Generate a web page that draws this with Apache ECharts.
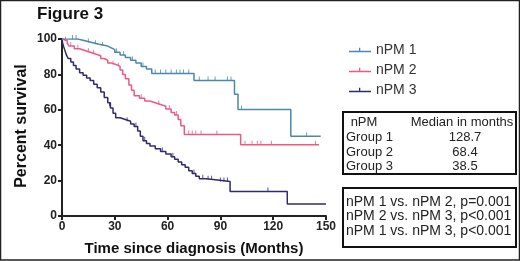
<!DOCTYPE html>
<html>
<head>
<meta charset="utf-8">
<script src="https://cdn.jsdelivr.net/npm/echarts@6/dist/echarts.min.js"></script>
<style>
  html, body { margin: 0; padding: 0; background: #fff; }
  #chart { width: 520px; height: 261px; }
</style>
</head>
<body>
<div id="chart"></div>
<script>
// KM curves: [time in months, percent survival after the step]
var npm1 = [[0,100],[9,99],[13,98],[17,97],[21,96],[26,95],[28,94],[30,92.5],[33,91],[36,89.5],[39,88],[42,86.5],[45,84.5],[48,83],[51,80.5],[75,76.5],[98,68.8],[100,60.2],[130,45],[147,45]];
var npm2 = [[0,100],[1,99],[3,97.5],[4,96],[7,94.5],[10,93.5],[13,92.5],[16,91.5],[19,90.5],[22,89],[24,88],[26,86.5],[28,85.5],[31,84.5],[33,82.5],[34.5,80],[36,77.5],[38,74],[39.5,71],[41,68],[44,66.5],[47,65],[50,64],[53,63],[56,62],[59,60.5],[62,58.5],[64,57],[66,54.5],[67.5,51],[69.5,46],[101.5,40.3],[146,40.3]];
var npm3 = [[0,100],[0.5,97],[1.5,94],[2.5,91],[3.5,89],[5,87],[6.5,85],[8,83],[10,81],[12,79.5],[14,78],[16,76.5],[18,74.5],[20,72.5],[22,70],[24,67],[26,64],[27.5,61],[29,58],[30.5,55.5],[33,54.5],[36,53.5],[39,52],[41,50.5],[43,48],[44.5,45],[46,42.5],[48,41],[50,39.5],[53,38],[56,36.5],[59,35],[62,33.5],[64,32],[66,30.5],[68,29],[70,27.5],[72,25.5],[74,24],[76,22.5],[78,21],[82,20.5],[87,19.5],[95.5,13.8],[128,6.8],[150,6.8]];

// censored observations (tick marks)
var cens1 = [[6,100],[8,100],[15,98],[19,97],[23,96],[31,92.5],[35,91],[40,88],[46,84.5],[53,80.5],[56,80.5],[59,80.5],[62,80.5],[65,80.5],[67,80.5],[69,80.5],[72,80.5],[78,76.5],[83,76.5],[87,76.5],[94,76.5],[96,76.5],[102,60.2],[139,45]];
var cens2 = [[2,99],[5,96],[9,94.5],[15,92.5],[18,91.5],[29,85.5],[32,84.5],[45,66.5],[55,63],[61,60.5],[65,57],[72,46],[74,46],[76,46],[79,46],[88,46],[104,40.3],[108,40.3],[111,40.3],[113,40.3],[119,40.3],[144,40.3]];
var cens3 = [[27,62],[37,53.5],[42,50.5],[47,42.5],[57,36.5],[63,33.5],[75,24],[80,21],[83,20.5],[85,20.5],[90,19.5],[92,19.5],[94,19.5],[117,13.8]];

var groupNames = ['nPM 1', 'nPM 2', 'nPM 3'];
var colors = ['#4b88aa', '#ec5a82', '#2e2c6e'];
var medianRows = ['Group 1', 'Group 2', 'Group 3'];
var medianVals = ['128.7', '68.4', '38.5'];
var pLines = ['nPM 1 vs. nPM 2, p=0.001', 'nPM 2 vs. nPM 3, p<0.001', 'nPM 1 vs. nPM 3, p<0.001'];
var xTicks = [0, 30, 60, 90, 120, 150];

var FONT = '"Liberation Sans", Arial, sans-serif';
var chart = echarts.init(document.getElementById('chart'));

var curves = [npm1, npm2, npm3];
var cens = [cens1, cens2, cens3];
var series = [];
for (var i = 0; i < 3; i++) {
  series.push({
    name: groupNames[i], type: 'line', step: 'end', data: curves[i],
    showSymbol: false, symbol: 'none', silent: true,
    lineStyle: { color: colors[i], width: 1.5 }, itemStyle: { color: colors[i] },
    z: 3 - i
  });
  series.push({
    type: 'scatter', data: cens[i], symbol: 'rect', symbolSize: [1, 4],
    symbolOffset: [0, -2], itemStyle: { color: colors[i], opacity: 0.8 }, silent: true, z: 4
  });
}

var graphic = [
  { type: 'rect', shape: { x: 0.5, y: 0.5, width: 519, height: 259.5 }, style: { fill: null, stroke: '#222', lineWidth: 1.5 } },
  { type: 'text', left: 37, top: 6, style: { text: 'Figure 3', font: 'bold 17px ' + FONT, fill: '#111' } },
  // y axis title, placed by hand so it sits where the reference has it
  { type: 'text', x: 22, y: 126, rotation: Math.PI / 2, style: { text: 'Percent survival', font: 'bold 16px ' + FONT, fill: '#111', align: 'center', verticalAlign: 'middle' } },
  { type: 'rect', shape: { x: 343, y: 112, width: 173, height: 62 }, style: { fill: null, stroke: '#111', lineWidth: 2 } },
  { type: 'text', x: 364, y: 122, style: { text: 'nPM', font: '13px ' + FONT, fill: '#222', align: 'center', verticalAlign: 'middle' } },
  { type: 'text', x: 462, y: 122, style: { text: 'Median in months', font: '13px ' + FONT, fill: '#222', align: 'center', verticalAlign: 'middle' } },
  { type: 'rect', shape: { x: 343, y: 188, width: 173, height: 59 }, style: { fill: null, stroke: '#111', lineWidth: 2 } }
];
for (var r = 0; r < medianRows.length; r++) {
  graphic.push({ type: 'text', x: 346, y: 137.5 + r * 14.5, style: { text: medianRows[r], font: '13px ' + FONT, fill: '#222', verticalAlign: 'middle' } });
  graphic.push({ type: 'text', x: 465, y: 137.5 + r * 14.5, style: { text: medianVals[r], font: '13px ' + FONT, fill: '#222', align: 'center', verticalAlign: 'middle' } });
}
for (var p = 0; p < pLines.length; p++) {
  graphic.push({ type: 'text', x: 346, y: 202 + p * 14.5, style: { text: pLines[p], font: '14px ' + FONT, fill: '#222', verticalAlign: 'middle' } });
}

chart.setOption({
  animation: false,
  grid: { left: 62, right: 194, top: 39, bottom: 45 },
  legend: {
    data: groupNames, orient: 'vertical', left: 344, top: 38,
    itemWidth: 22, itemHeight: 7, itemGap: 6,
    icon: 'path://M0,3h22v1.5h-22z M10,0h1.3v3h-1.3z',
    textStyle: { fontSize: 14, color: '#333', fontFamily: FONT }
  },
  xAxis: {
    type: 'value', min: 0, max: 150, interval: 30,
    name: 'Time since diagnosis (Months)', nameLocation: 'middle', nameGap: 25,
    nameTextStyle: { fontSize: 15, fontWeight: 'bold', color: '#111', fontFamily: FONT },
    axisLine: { lineStyle: { color: '#222', width: 2 } },
    axisTick: { length: 4, lineStyle: { color: '#222', width: 2 } },
    axisLabel: { fontSize: 12, fontWeight: 'bold', color: '#222', fontFamily: FONT, margin: 5,
      formatter: function (v) { return xTicks.indexOf(v) >= 0 ? String(v) : ''; } },
    splitLine: { show: false }
  },
  yAxis: {
    type: 'value', min: 0, max: 100, interval: 20,
    axisLine: { show: true, lineStyle: { color: '#222', width: 2 } },
    axisTick: { show: true, length: 4, lineStyle: { color: '#222', width: 2 } },
    axisLabel: { fontSize: 12, fontWeight: 'bold', color: '#222', fontFamily: FONT, margin: 5 },
    splitLine: { show: false }
  },
  graphic: graphic,
  series: series
});
</script>
</body>
</html>
